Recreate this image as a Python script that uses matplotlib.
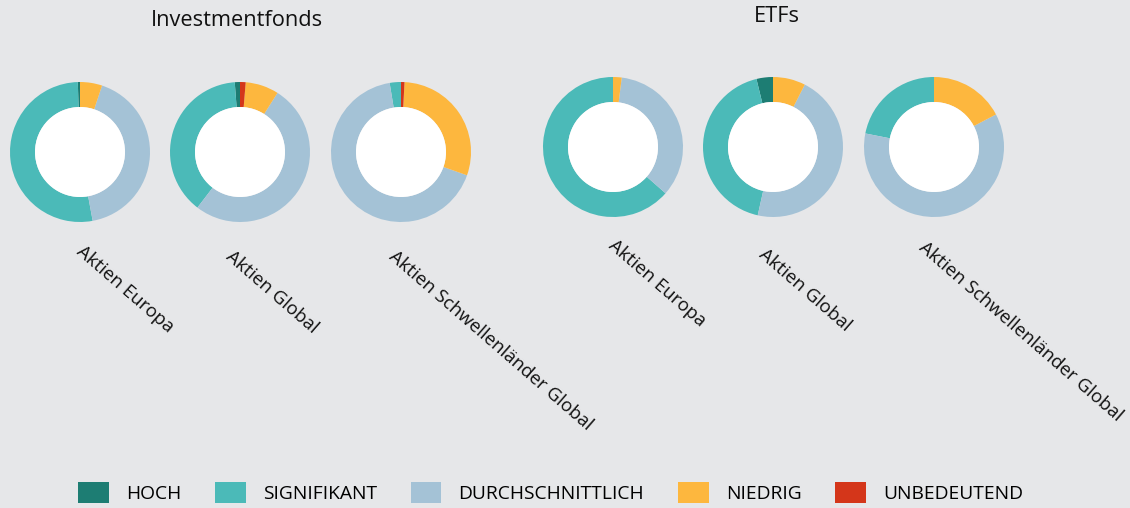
import numpy as np
import matplotlib
matplotlib.use("Agg")
import matplotlib.pyplot as plt
from matplotlib.patches import Circle, Patch

plt.rcParams["font.family"] = ["Open Sans", "DejaVu Sans"]

categories = ["HOCH", "SIGNIFIKANT", "DURCHSCHNITTLICH", "NIEDRIG", "UNBEDEUTEND"]
colors = ["#1d7d73", "#4bbab8", "#a4c2d6", "#fdb73e", "#d4361a"]

group_titles = ["Investmentfonds", "ETFs"]
fund_names = ["Aktien Europa", "Aktien Global", "Aktien Schwellenländer Global"]

# shares in percent, order as in categories
fonds_values = [
    [0.5, 52.4, 42.0, 5.1, 0.0],
    [1.2, 38.4, 51.4, 7.7, 1.3],
    [0.0, 2.6, 67.0, 29.6, 0.8],
]
etf_values = [
    [0.0, 63.5, 34.5, 2.0, 0.0],
    [3.8, 42.7, 46.0, 7.5, 0.0],
    [0.0, 21.9, 60.8, 17.3, 0.0],
]

W, H = 1130, 508
bg = "#e6e7e9"

fig = plt.figure(figsize=(W / 100, H / 100), dpi=100, facecolor=bg)
ax = fig.add_axes([0, 0, 1, 1])
ax.set_xlim(0, W)
ax.set_ylim(0, H)
ax.set_aspect("equal")
ax.axis("off")

# layout in pixels (x, y from top): values, donut x, donut y, label dx, label y, title x, title y
groups = [
    (fonds_values, [80, 240, 401], 152, [-1, -12, -10], [249, 254, 254], 237, 20),
    (etf_values, [613, 773, 934], 147, [-2, -12, -13], [243, 252, 245], 777, 17),
]
r_out, r_in = 70, 45

for (values, xs, cy, ldx, ly, tx, ty), title in zip(groups, group_titles):
    for vals, cx, dx, y, name in zip(values, xs, ldx, ly, fund_names):
        center = (cx, H - cy)
        ax.pie(vals, colors=colors, startangle=90, counterclock=True,
               radius=r_out, center=center,
               wedgeprops=dict(width=r_out - r_in, linewidth=0))
        ax.add_patch(Circle(center, r_in, facecolor="white", edgecolor="none"))
        ax.text(cx + dx, H - y, name, rotation=-41, rotation_mode="anchor",
                ha="left", va="center", fontsize=13.4, color="#111111")
    ax.text(tx, H - ty, title, ha="center", va="center", fontsize=15.7, color="#111111")

ax.set_xlim(0, W)
ax.set_ylim(0, H)

handles = [Patch(facecolor=c, edgecolor="none") for c in colors]
fig.legend(handles, categories, loc="lower left", bbox_to_anchor=(73 / W, 0),
           ncol=5, frameon=False, fontsize=13.9, handlelength=1.6,
           handleheight=1.3, handletextpad=0.88, columnspacing=1.75,
           borderaxespad=0.1, borderpad=0.15)

fig.savefig("out.png", dpi=100, facecolor=bg)
